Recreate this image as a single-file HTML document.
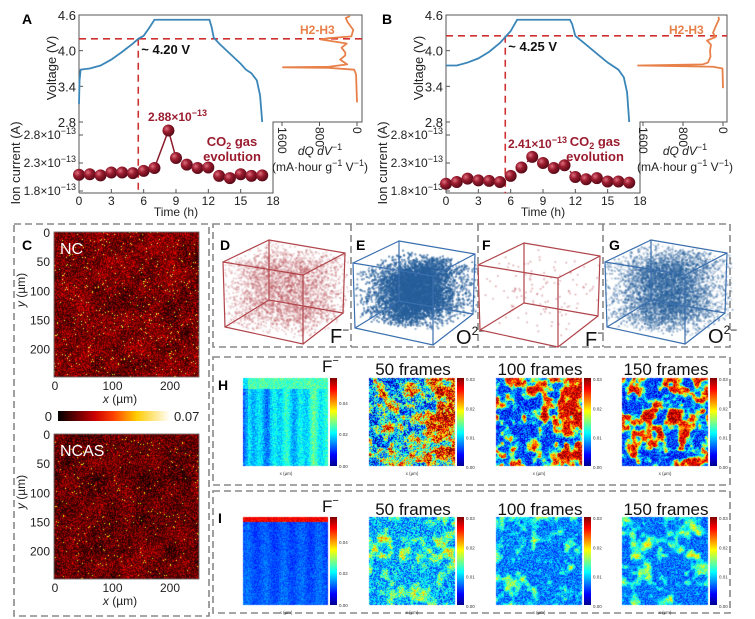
<!DOCTYPE html>
<html><head><meta charset="utf-8"><style>
html,body{margin:0;padding:0;background:#fff;}
#wrap{position:relative;width:755px;height:619px;overflow:hidden;font-family:"Liberation Sans",sans-serif;}
canvas,svg{position:absolute;left:0;top:0;}
</style></head><body>
<div id="wrap">
<canvas id="tex" width="755" height="619"></canvas>
<svg id="svg" width="755" height="619" viewBox="0 0 755 619" font-family="Liberation Sans, sans-serif">
<defs>
<radialGradient id="ball" cx="35%" cy="35%" r="65%"><stop offset="0" stop-color="#e07080"/><stop offset="0.45" stop-color="#9a1c2e"/><stop offset="1" stop-color="#5a0a18"/></radialGradient>
<linearGradient id="hot" x1="0" x2="1" y1="0" y2="0"><stop offset="0" stop-color="#000"/><stop offset="0.33" stop-color="#c00"/><stop offset="0.5" stop-color="#f40"/><stop offset="0.7" stop-color="#fc0"/><stop offset="1" stop-color="#fff"/></linearGradient>
<linearGradient id="jet" x1="0" x2="0" y1="1" y2="0"><stop offset="0" stop-color="#00008f"/><stop offset="0.125" stop-color="#0000ff"/><stop offset="0.375" stop-color="#00ffff"/><stop offset="0.625" stop-color="#ffff00"/><stop offset="0.875" stop-color="#ff0000"/><stop offset="1" stop-color="#800000"/></linearGradient>
</defs>
<g id="panelA"></g>
<g id="panelB"></g>
<g id="lower"></g>
</svg>
</div>
<script>
// ===== Chart data (panels A and B) =====
const timesA=[0,1,2,3,4,5,6,7,8.3,9,10,11,12,13,14,15,16,17];
const ionA=[2.09,2.10,2.08,2.13,2.13,2.12,2.16,2.21,2.88,2.39,2.27,2.21,2.22,2.07,2.03,2.10,2.07,2.08];
const timesB=[0,1,2,3,4,5,6,7,8,9,10,11,12,13,14,15,16,17];
const ionB=[1.93,1.96,2.02,1.99,1.98,1.96,2.07,2.22,2.41,2.30,2.21,2.26,2.05,2.01,2.03,1.97,1.97,1.95];
const vTimeA=[0,0.05,0.15,0.5,1,2,3,4,5,5.5,6,6.5,7,8,12.1,12.3,12.5,13,14,15,15.5,16,16.5,16.8,17];
const voltA=[3.1,3.5,3.68,3.69,3.70,3.75,3.85,3.98,4.12,4.20,4.25,4.38,4.52,4.52,4.52,4.40,4.22,4.12,3.95,3.78,3.68,3.62,3.50,3.25,2.8];
const vTimeB=[0,1,2,3,4,5,5.5,6,6.6,11.5,11.7,12,13,14,15,16,16.5,16.8,17];
const voltB=[3.75,3.75,3.8,3.87,3.98,4.13,4.23,4.33,4.52,4.52,4.45,4.25,4.1,3.95,3.8,3.68,3.55,3.3,2.8];
const dqVoltA=[3.13,3.6,3.68,3.71,3.72,3.73,3.77,3.85,3.92,3.97,4.05,4.12,4.19,4.21,4.24,4.35,4.48,4.55,4.58];
const dqA=[0,20,60,600,1580,600,210,360,250,250,330,220,780,600,120,80,200,240,150];
const dqVoltB=[3.37,3.7,3.73,3.75,3.77,3.8,3.9,4.0,4.1,4.17,4.23,4.3,4.42,4.53,4.57];
const dqB=[0,10,200,1700,400,300,250,260,240,320,150,200,140,80,90];
const timeTicks=[0,3,6,9,12,15,18];
const voltTicks=[4.6,4.0,3.4,2.8];
const ionTicks=[2.8,2.3,1.8];
const dqTicks=[1600,800,0];
const onsetA=4.20, onsetB=4.25, onsetTimeA=5.5, onsetTimeB=5.5;

const NS="http://www.w3.org/2000/svg";
function el(tag,attrs,parent,text){const e=document.createElementNS(NS,tag);for(const k in attrs)e.setAttribute(k,attrs[k]);if(text!==undefined)e.textContent=text;parent.appendChild(e);return e;}

function drawPanel(g,cfg){
  const X=t=>cfg.x0+(t/18)*(cfg.x18-cfg.x0);
  const YV=v=>15+(4.6-v)/1.8*107;
  const YI=i=>191-(i-1.8)*56;
  const XQ=q=>cfg.q0-(q/1600)*(cfg.q0-cfg.q1600);
  let e;
  e=el('path',{d:`M${cfg.x0} 193 V15 H${cfg.right} V122 H${cfg.x18} V193 H${cfg.x0}`,fill:'none',stroke:'#555','stroke-width':1},g);
  
  timeTicks.forEach(t=>{
    e=el('line',{x1:X(t),x2:X(t),y1:193,y2:189,stroke:'#555'},g);
    
    e=el('text',{x:X(t),y:205,'font-size':12,'text-anchor':'middle',fill:'#222'},g,String(t));
    
  });
  e=el('text',{x:(cfg.x0+cfg.x18)/2,y:216,'font-size':12,'text-anchor':'middle',fill:'#222'},g,'Time (h)');
  
  voltTicks.forEach(v=>{
    e=el('line',{x1:cfg.x0,x2:cfg.x0+4,y1:YV(v),y2:YV(v),stroke:'#555'},g);
    
    e=el('text',{x:cfg.x0-3,y:YV(v)+5,'font-size':13,'text-anchor':'end',fill:'#222'},g,v.toFixed(1));
    
  });
  e=el('text',{x:0,y:0,'font-size':13,'text-anchor':'middle',fill:'#222',transform:`translate(${cfg.x0-23},68) rotate(-90)`},g,'Voltage (V)');
  
  ionTicks.forEach(v=>{
    e=el('line',{x1:cfg.x0,x2:cfg.x0+4,y1:YI(v),y2:YI(v),stroke:'#555'},g);
    
    const t=el('text',{x:cfg.x0-3,y:YI(v)+4,'font-size':12,'text-anchor':'end',fill:'#222'},g);
    
    el('tspan',{},t,v.toFixed(1)+'×10');el('tspan',{dy:-5,'font-size':9},t,'−13');
  });
  e=el('text',{x:0,y:0,'font-size':13,'text-anchor':'middle',fill:'#222',transform:`translate(${cfg.x0-59},163) rotate(-90)`},g,'Ion current (A)');
  
  dqTicks.forEach(q=>{
    e=el('line',{x1:XQ(q),x2:XQ(q),y1:122,y2:126,stroke:'#555'},g);
    
    e=el('text',{x:0,y:0,'font-size':12,fill:'#222',transform:`translate(${XQ(q)-4},127) rotate(90)`},g,String(q));
    
  });
  const tq=el('text',{x:cfg.qmid,y:155,'font-size':12,'text-anchor':'middle','font-style':'italic',fill:'#222'},g);
  
  el('tspan',{},tq,'dQ dV');el('tspan',{dy:-5,'font-size':9,'font-style':'normal'},tq,'−1');
  const tq2=el('text',{x:cfg.qmid,y:171,'font-size':12,'text-anchor':'middle',fill:'#222'},g);
  
  el('tspan',{},tq2,'(mA·hour g');el('tspan',{dy:-5,'font-size':9},tq2,'−1');el('tspan',{dy:5},tq2,' V');el('tspan',{dy:-5,'font-size':9},tq2,'−1');el('tspan',{dy:5},tq2,')');
  e=el('line',{x1:cfg.x0,x2:cfg.right,y1:YV(cfg.onset),y2:YV(cfg.onset),stroke:'#d03030','stroke-width':1.6,'stroke-dasharray':'7 5'},g);
  
  e=el('line',{x1:X(cfg.onsetT),x2:X(cfg.onsetT),y1:YV(cfg.onset),y2:193,stroke:'#d03030','stroke-width':1.6,'stroke-dasharray':'7 5'},g);
  
  e=el('polyline',{points:cfg.vt.map((t,i)=>X(t)+','+YV(cfg.v[i])).join(' '),fill:'none',stroke:'#3a86b8','stroke-width':1.8},g);
  
  e=el('polyline',{points:cfg.dqv.map((v,i)=>XQ(cfg.dq[i])+','+YV(v)).join(' '),fill:'none',stroke:'#e8804a','stroke-width':1.8,'stroke-linejoin':'round'},g);
  
  e=el('text',{x:cfg.h2x,y:34,'font-size':12,fill:'#e8804a','font-weight':'bold'},g,'H2-H3');
  
  e=el('text',{x:X(cfg.onsetT)+3,y:YV(cfg.onset)+15,'font-size':13,'font-weight':'bold',fill:'#111'},g,'~ '+cfg.onset.toFixed(2)+' V');
  
  const ci=cfg.conn;
  for(let k=ci[0];k<ci[1];k++){
    e=el('line',{x1:X(cfg.t[k]),y1:YI(cfg.ion[k]),x2:X(cfg.t[k+1]),y2:YI(cfg.ion[k+1]),stroke:'#8b1a2a','stroke-width':1.5,'stroke-dasharray':cfg.dash},g);
    
  }
  cfg.t.forEach((t,i)=>{
    e=el('circle',{cx:X(t),cy:YI(cfg.ion[i]),r:6,fill:'url(#ball)'},g);
    
  });
  const pk=cfg.ion.indexOf(Math.max(...cfg.ion));
  const pl=el('text',{x:cfg.peakLx,y:cfg.peakLy,'font-size':12,'font-weight':'bold',fill:'#9a1c2e'},g);
  
  el('tspan',{},pl,cfg.ion[pk].toFixed(2)+'×10');el('tspan',{dy:-5,'font-size':9},pl,'−13');
  const c1=el('text',{x:cfg.co2x,y:146,'font-size':13,'font-weight':'bold',fill:'#9a1c2e','text-anchor':'middle'},g);
  
  el('tspan',{},c1,'CO');el('tspan',{dy:3,'font-size':9},c1,'2');el('tspan',{dy:-3},c1,' gas');
  e=el('text',{x:cfg.co2x,y:161,'font-size':13,'font-weight':'bold',fill:'#9a1c2e','text-anchor':'middle'},g,'evolution');
  
  e=el('text',{x:cfg.lx,y:24,'font-size':14,'font-weight':'bold',fill:'#000'},g,cfg.letter);
  
}
drawPanel(document.getElementById('panelA'),{x0:79,x18:273,right:362,q0:357,q1600:282,qmid:320,h2x:300,t:timesA,ion:ionA,vt:vTimeA,v:voltA,dqv:dqVoltA,dq:dqA,onset:onsetA,onsetT:onsetTimeA,conn:[7,9],dash:'none',peakLx:148,peakLy:121,co2x:232,lx:22,letter:'A'});
drawPanel(document.getElementById('panelB'),{x0:446,x18:640,right:727,q0:723,q1600:643,qmid:685,h2x:669,t:timesB,ion:ionB,vt:vTimeB,v:voltB,dqv:dqVoltB,dq:dqB,onset:onsetB,onsetT:onsetTimeB,conn:[5,12],dash:'2 2',peakLx:508,peakLy:148,co2x:595,lx:382,letter:'B'});

// ===== Lower panels (textures) =====
const cv=document.getElementById('tex').getContext('2d');
let seed=12345;function rnd(){seed=(seed*1103515245+12345)&0x7fffffff;return seed/0x7fffffff;}
function clamp(v){return v<0?0:v>1?1:v;}
function jet(t){return [clamp(1.5-Math.abs(4*t-3)),clamp(1.5-Math.abs(4*t-2)),clamp(1.5-Math.abs(4*t-1))];}
function hot(t){return [clamp(3*t),clamp(3*t-1),clamp(3*t-2)];}
function grid(n){const g=[];for(let i=0;i<(n+1)*(n+1);i++)g.push(rnd());return (u,v)=>{const x=u*n,y=v*n,i=Math.min(n-1,Math.floor(x)),j=Math.min(n-1,Math.floor(y)),fx=x-i,fy=y-j;const a=g[j*(n+1)+i],b=g[j*(n+1)+i+1],c=g[(j+1)*(n+1)+i],d=g[(j+1)*(n+1)+i+1];const sx=fx*fx*(3-2*fx),sy=fy*fy*(3-2*fy);return a*(1-sx)*(1-sy)+b*sx*(1-sy)+c*(1-sx)*sy+d*sx*sy;};}
function fbm(){const a=grid(7),b=grid(16),c=grid(30);return (u,v)=>0.4*a(u,v)+0.4*b(u,v)+0.2*c(u,v);}
function paint(x,y,w,h,fn,cmap){const im=cv.createImageData(w,h);for(let j=0;j<h;j++)for(let i=0;i<w;i++){const c=cmap(clamp(fn(i/w,j/h)));const k=(j*w+i)*4;im.data[k]=c[0]*255;im.data[k+1]=c[1]*255;im.data[k+2]=c[2]*255;im.data[k+3]=255;}cv.putImageData(im,x,y);}
const gC1=grid(10),gC2=grid(10);
paint(54,232,145,145,(u,v)=>{const r=rnd();return 0.03+0.24*r*r+0.1*gC1(u,v)+(r>0.98?0.42:0);},hot);
paint(54,434,145,145,(u,v)=>{const r=rnd();return 0.02+0.23*r*r+0.08*gC2(u,v)+(r>0.988?0.38:0);},hot);
paint(243,378,85,88,(u,v)=>{const s=0.05*Math.sin(u*40)+0.04*Math.sin(u*17);return (v<0.12?0.45:0.3+0.1*u+s)+0.14*(rnd()-0.5)-(u<0.05?0.1:0);},jet);
paint(243,517,85,88,(u,v)=>{return (v<0.05?0.88:0.2+0.02*Math.sin(u*30)+0.02*v)+0.1*(rnd()-0.5);},jet);
const mapsX=[369,496,622];
mapsX.forEach((mx,k)=>{
  const g=fbm(),sharp=[6,9,10][k],noise=[0.5,0.28,0.25][k];
  paint(mx,378,86,88,(u,v)=>{const b=g(u,v)+0.12*(u-0.4)*(k===0?2:1);return 0.55+0.38*Math.tanh((b-0.55)*sharp)+noise*(rnd()-0.5);},jet);
  const gi=fbm(),base=[0.3,0.25,0.24][k],ni=[0.3,0.2,0.18][k];
  paint(mx,517,86,88,(u,v)=>{const b=gi(u,v);return base+1.1*Math.max(0,b-0.5)+ni*(rnd()-0.5);},jet);
});
const cubes=[[223,240,'rgba(180,70,80,0.25)',3200,0.9],[353,241,'rgba(40,95,155,0.3)',14000,0.35],[478,243,'rgba(180,70,80,0.35)',120,1.0],[605,240,'rgba(40,95,155,0.25)',8000,0.55]];
cubes.forEach(([ax,ay,col,n,spread])=>{
  cv.fillStyle=col;
  for(let i=0;i<n;i++){
    let u=rnd(),v=rnd(),w=rnd();
    if(spread<0.8){u=0.5+(u-0.5)*(spread+(rnd()<0.5?0:0.6));v=0.5+(v-0.5)*(spread+0.4);}
    u=clamp(u);v=clamp(v);
    const x=ax+u*80+w*46+v*2, y=ay+22+u*13+v*65-w*22;
    cv.beginPath();cv.arc(x,y,1.1,0,6.3);cv.fill();
  }
});

const L=document.getElementById('lower');
let e;
function dbox(x,y,w,h,name){e=el('rect',{x:x,y:y,width:w,height:h,fill:'none',stroke:'#888','stroke-width':1.6,'stroke-dasharray':'7 4'},L);}
dbox(14,224,195,392,'panel-c-box');
dbox(213,224,517,123,'panel-dg-box');
dbox(213,357,517,128,'panel-h-box');
dbox(213,491,517,122,'panel-i-box');
[351,478,603].forEach(x=>{e=el('line',{x1:x,x2:x,y1:224,y2:347,stroke:'#888','stroke-width':1.6,'stroke-dasharray':'7 4'},L);});
function label(x,y,t,size,name,extra){e=el('text',Object.assign({x:x,y:y,'font-size':size,fill:'#000'},extra||{}),L,t);return e;}
label(22,250,'C',14,'panel-letter',{'font-weight':'bold'});
label(220,250,'D',14,'panel-letter',{'font-weight':'bold'});
label(356,250,'E',14,'panel-letter',{'font-weight':'bold'});
label(482,250,'F',14,'panel-letter',{'font-weight':'bold'});
label(609,250,'G',14,'panel-letter',{'font-weight':'bold'});
label(218,390,'H',14,'panel-letter',{'font-weight':'bold'});
label(218,523,'I',14,'panel-letter',{'font-weight':'bold'});
const cubeCols=['#b0444a','#3b6fae','#b0444a','#3b6fae'];
const ionLbl=['F','O','F','O'],ionSup=['−','2−','−','2−'];
cubes.forEach(([ax,ay],k)=>{
  const P=(px,py)=>(ax+px)+','+(ay+py);
  const d=`M${P(0,22)} L${P(80,35)} L${P(80,104)} L${P(2,87)} Z M${P(46,0)} L${P(122,13)} L${P(120,73)} L${P(46,60)} Z M${P(0,22)} L${P(46,0)} M${P(80,35)} L${P(122,13)} M${P(80,104)} L${P(120,73)} M${P(2,87)} L${P(46,60)}`;
  e=el('path',{d:d,fill:'none',stroke:cubeCols[k],'stroke-width':1.2},L);
  const t=el('text',{x:ax+(k%2?103:107),y:ay+103,'font-size':20,fill:'#111'},L);
  el('tspan',{},t,ionLbl[k]);el('tspan',{dy:-9,'font-size':12},t,ionSup[k]);
});
[[232,'NC'],[434,'NCAS']].forEach(([top,name])=>{
  e=el('rect',{x:54,y:top,width:145,height:145,fill:'none',stroke:'#666','stroke-width':0.8},L);
  label(60,top+22,name,16,'sample-label',{fill:'#fff'});
  [0,50,100,150,200].forEach(v=>{label(50,top+v*0.583+5,String(v),12,'y-tick-label',{'text-anchor':'end',fill:'#222'});});
  [0,100,200].forEach(v=>{label(55+v*0.575,top+158,String(v),12,'x-tick-label',{'text-anchor':'middle',fill:'#222'});});
  const xt=el('text',{x:120,y:top+171,'font-size':12,'text-anchor':'middle',fill:'#222'},L);
  el('tspan',{'font-style':'italic'},xt,'x');el('tspan',{},xt,' (µm)');
  const yt=el('text',{x:0,y:0,'font-size':12,'text-anchor':'middle',fill:'#222',transform:`translate(25,${top+58}) rotate(-90)`},L);
  el('tspan',{'font-style':'italic'},yt,'y');el('tspan',{},yt,' (µm)');
});
e=el('rect',{x:58,y:411,width:112,height:10,fill:'url(#hot)'},L);
label(52,421,'0',13,'colorbar-min',{'text-anchor':'end',fill:'#222'});
label(174,421,'0.07',13,'colorbar-max',{fill:'#222'});
[[378,368],[517,508]].forEach(([top,ty])=>{
  const t=el('text',{x:322,y:ty+4,'font-size':17,fill:'#111'},L);
  el('tspan',{},t,'F');el('tspan',{dy:-8,'font-size':11},t,'−');
  e=el('rect',{x:330,y:top,width:7,height:88,fill:'url(#jet)'},L);
  ['0.04','0.02','0.00'].forEach((s,i)=>label(339,top+[25,56,88][i]+2,s,4.5,'colorbar-tick',{fill:'#333'}));
  label(286,top+97,'x (µm)',4.5,'x-axis-title',{'text-anchor':'middle',fill:'#333'});
  ['50 frames','100 frames','150 frames'].forEach((s,i)=>{
    const mx=mapsX[i];
    label(mx+44,ty+7,s,17,'frame-title',{'text-anchor':'middle',fill:'#111'});
    e=el('rect',{x:mx+88,y:top,width:7,height:88,fill:'url(#jet)'},L);
    ['0.03','0.02','0.01','0.00'].forEach((s2,j)=>label(mx+97,top+j*29.3+3,s2,4.5,'colorbar-tick',{fill:'#333'}));
    label(mx+43,top+97,'x (µm)',4.5,'x-axis-title',{'text-anchor':'middle',fill:'#333'});
  });
});
</script>
</body></html>
